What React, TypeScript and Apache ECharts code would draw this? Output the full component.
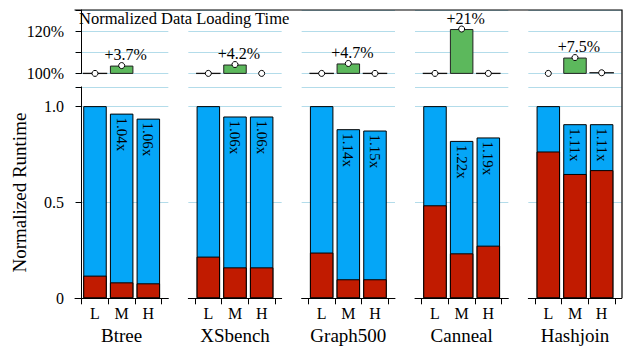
import React, { useEffect, useRef } from "react";
import * as echarts from "echarts";

const BENCHMARKS = ["Btree", "XSbench", "Graph500", "Canneal", "Hashjoin"];
const CONFIGS = ["L", "M", "H"];
// Normalized runtime: total height and bottom (red) part
const RUNTIME_TOTAL = [
  [1.0, 0.961, 0.935],
  [1.0, 0.946, 0.946],
  [1.0, 0.88, 0.873],
  [1.0, 0.819, 0.837],
  [1.0, 0.906, 0.906],
];
const RUNTIME_BOTTOM = [
  [0.118, 0.083, 0.078],
  [0.217, 0.161, 0.161],
  [0.238, 0.099, 0.099],
  [0.484, 0.234, 0.274],
  [0.764, 0.647, 0.667],
];
const SPEEDUP_LABELS = [
  ["", "1.04x", "1.06x"],
  ["", "1.06x", "1.06x"],
  ["", "1.14x", "1.15x"],
  ["", "1.22x", "1.19x"],
  ["", "1.11x", "1.11x"],
];
// Normalized data loading time (%); null = no bar drawn
const LOAD_BARS = [
  [100, 103.7, null],
  [100, 104.2, null],
  [100, 104.7, 100],
  [100, 121, 100],
  [null, 107.5, 100.3],
];
// circle markers
const LOAD_MARKS = [
  [100, 103.7, null],
  [100, 104.2, 100],
  [100, 104.7, 100],
  [100, 121, 100],
  [100, 107.5, 100.3],
];
const LOAD_LABELS = [
  ["", "+3.7%", ""],
  ["", "+4.2%", ""],
  ["", "+4.7%", ""],
  ["", "+21%", ""],
  ["", "+7.5%", ""],
];
const RUNTIME_TICKS = [0, 0.5, 1.0];
const LOAD_TICKS = [100, 120];

const FONT = "Liberation Serif";
const BLUE = "#05a6f7";
const RED = "#c11b00";
const GREEN = "#5cb85c";
const GRID_COLOR = "#b3dcea";

export default function App() {
  const ref = useRef<HTMLDivElement>(null);
  useEffect(() => {
    if (!ref.current) return;
    const chart = echarts.init(ref.current, null, { renderer: "svg" });
    const GL = 75, STEP = 113.33, GW = 93.33;
    const BW = 23.5;
    const grids: any[] = [];
    const xAxes: any[] = [];
    const yAxes: any[] = [];
    const series: any[] = [];
    const pos = (j: number) => j + 0.5;

    BENCHMARKS.forEach((name, i) => {
      const left = GL + STEP * i;
      const first = i === 0;
      grids.push({ left, top: 10, width: GW, height: 63.4, containLabel: false, outerBoundsMode: "none" });
      grids.push({ left, top: 86.9, width: GW, height: 211.4, containLabel: false, outerBoundsMode: "none" });
      const ti = 2 * i, bi = 2 * i + 1;
      xAxes.push({ gridIndex: ti, type: "value", min: -0.25, max: 3.25, show: false });
      xAxes.push({
        gridIndex: bi, type: "value", min: -0.25, max: 3.25,
        name, nameLocation: "middle", nameGap: 26,
        nameTextStyle: { fontFamily: FONT, fontSize: 19, color: "#000" },
        axisLine: { show: true, onZero: false, lineStyle: { color: "#000", width: 1 } },
        axisTick: { show: true, customValues: [0, 1, 2, 3], length: 6, lineStyle: { color: "#000" } },
        axisLabel: {
          show: true, customValues: CONFIGS.map((_, j) => pos(j)), margin: 7,
          formatter: (v: number) => CONFIGS[Math.round(v - 0.5)] ?? "",
          fontFamily: FONT, fontSize: 16, color: "#000",
        },
        splitLine: { show: false },
      });
      yAxes.push({
        gridIndex: ti, type: "value", min: 100, max: 130, interval: 10,
        axisLine: { show: first, lineStyle: { color: "#000" } },
        axisTick: { show: first, length: 6, lineStyle: { color: "#000" } },
        axisLabel: {
          show: first, margin: 11, fontFamily: FONT, fontSize: 16, color: "#000",
          formatter: (v: number) => (LOAD_TICKS.some((t) => Math.abs(t - v) < 1e-6) ? `${Math.round(v)}%` : ""),
        },
        splitLine: { show: true, lineStyle: { color: GRID_COLOR, width: 1 } },
      });
      yAxes.push({
        gridIndex: bi, type: "value", min: 0, max: 1.1, interval: 0.1,
        name: first ? "Normalized Runtime" : "",
        nameLocation: "middle", nameRotate: 90, nameGap: 46,
        nameTextStyle: { fontFamily: FONT, fontSize: 19, color: "#000" },
        axisLine: { show: first, lineStyle: { color: "#000" } },
        axisTick: { show: first, customValues: [0, 0.5, 1.0, 1.1], length: 6, lineStyle: { color: "#000" } },
        axisLabel: {
          show: first, margin: 11, fontFamily: FONT, fontSize: 16, color: "#000",
          customValues: RUNTIME_TICKS,
          formatter: (v: number) => {
            if (Math.abs(v) < 1e-6) return "0";
            return RUNTIME_TICKS.some((t) => Math.abs(t - v) < 1e-6) ? v.toFixed(1) : "";
          },
        },
        splitLine: { show: true, lineStyle: { color: GRID_COLOR, width: 1 } },
      });

      // bottom: full runtime (blue) with the bottom part (red) overlaid
      series.push({
        type: "bar", xAxisIndex: bi, yAxisIndex: bi, barWidth: BW, barGap: "-100%",
        data: RUNTIME_TOTAL[i].map((v, j) => [pos(j), v]),
        itemStyle: { color: BLUE, borderColor: "#000", borderWidth: 1 },
        label: {
          show: true, position: "insideTop", distance: 4, rotate: -90,
          align: "left", verticalAlign: "middle",
          fontFamily: FONT, fontSize: 15, color: "#000",
          formatter: (p: any) => SPEEDUP_LABELS[i][p.dataIndex],
        },
      });
      series.push({
        type: "bar", xAxisIndex: bi, yAxisIndex: bi, barWidth: BW, barGap: "-100%",
        data: RUNTIME_BOTTOM[i].map((v, j) => [pos(j), v]),
        itemStyle: { color: RED, borderColor: "#000", borderWidth: 1 },
      });
      // top: loading-time bars (clipped at 100%)
      series.push({
        type: "bar", xAxisIndex: ti, yAxisIndex: ti, barWidth: BW,
        data: LOAD_BARS[i].map((v, j) => [pos(j), v == null || v <= 100.5 ? "-" : v]),
        itemStyle: { color: GREEN, borderColor: "#222", borderWidth: 1 },
        label: {
          show: true, position: "top", distance: 3, offset: [4, 0],
          fontFamily: FONT, fontSize: 16, color: "#000",
          formatter: (p: any) => LOAD_LABELS[i][p.dataIndex],
        },
      });
      // flat bars (about 100%) drawn as thin lines
      series.push({
        type: "scatter", xAxisIndex: ti, yAxisIndex: ti, clip: false, z: 4,
        symbol: "rect", symbolSize: [BW + 1, 1.3],
        data: LOAD_BARS[i].map((v, j) => [pos(j), v != null && v <= 100.5 ? v : "-"]),
        itemStyle: { color: "#111", opacity: 1 },
      });
      series.push({
        type: "scatter", xAxisIndex: ti, yAxisIndex: ti, clip: false, z: 5,
        symbol: "circle", symbolSize: 6,
        data: LOAD_MARKS[i].map((v, j) => [pos(j), v == null ? "-" : v]),
        itemStyle: { color: "#fff", borderColor: "#000", borderWidth: 1, opacity: 1 },
      });
    });

    chart.setOption({
      animation: false,
      backgroundColor: "#fff",
      title: {
        text: "Normalized Data Loading Time",
        left: 79, top: 10, padding: 0,
        textStyle: { fontFamily: FONT, fontSize: 16.5, fontWeight: "normal", color: "#000" },
      },
      grid: grids,
      xAxis: xAxes,
      yAxis: yAxes,
      series,
      graphic: [
        {
          type: "polyline", z: 10, silent: true,
          shape: { points: [[74.5, 10], [622, 10], [622, 298.3]] },
          style: { stroke: "#000", lineWidth: 1.2, fill: null },
        },
      ],
    });
    return () => chart.dispose();
  }, []);
  return <div ref={ref} style={{ width: 626, height: 347, position: "absolute", left: 0, top: 0 }} />;
}
